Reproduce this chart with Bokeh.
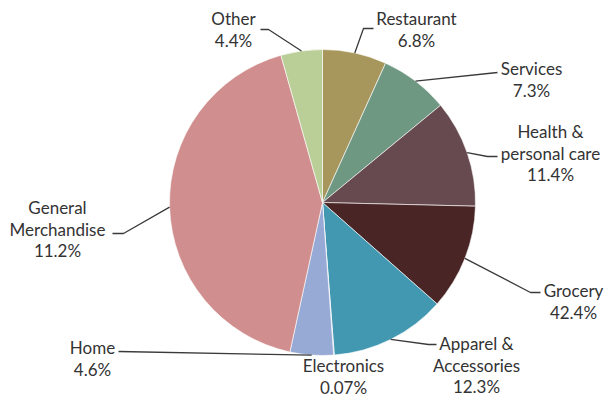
import math
from bokeh.plotting import figure
from bokeh.models import Range1d, ColumnDataSource
from bokeh.core.properties import value
from bokeh.embed import file_html
from bokeh.resources import INLINE

# ---- data ----
categories = ["Restaurant", "Services", "Health &\npersonal care", "Grocery",
              "Apparel &\nAccessories", "Electronics", "Home",
              "General\nMerchandise", "Other"]
# slice sizes as drawn (percent of the circle)
slice_values = [6.8, 7.3, 11.4, 11.2, 12.3, 0.07, 4.6, 42.4, 4.4]
# percentages as printed in the labels
label_pcts = ["6.8%", "7.3%", "11.4%", "42.4%", "12.3%", "0.07%", "4.6%", "11.2%", "4.4%"]

# ---- styles / layout ----
colors = ["#A8975C", "#6F9883", "#674A4F", "#4A2525", "#4398B1",
          "#B8C4DC", "#97AAD5", "#D18E8E", "#B9CF97"]
W, H = 611, 398
OX, OY = 0, 0  # image offset of the plot
def Y(img_y):
    return H - (img_y - OY)

cx, cy, R = 322 - OX, Y(202), 153
# label text position (center x, first line image y), leader elbow & end (image coords)
label_layout = [
    (416, 18, (363, 28), (373, 28)),
    (531, 68, None, (497, 72)),
    (550, 131, (487, 156), (497, 156)),
    (573, 290, (530, 292), (540, 292)),
    (476, 343, (428, 344), (436, 344)),
    (343, 365, None, None),
    (92, 347, None, (118, 351)),
    (57, 207, (123, 233), (112, 233)),
    (233, 18, (268, 29), (260, 29)),
]
LINE_H = 21.7
text_color = "#333333"

p = figure(width=W, height=H, output_backend="svg", toolbar_location=None,
           x_range=Range1d(OX, OX + W), y_range=Range1d(0, H),
           min_border=0, outline_line_color=None)
p.axis.visible = False
p.grid.visible = False
p.background_fill_color = "white"
p.border_fill_color = "white"

total = sum(slice_values)
starts, ends, mids = [], [], []
cum = 0.0
for v in slice_values:
    a0 = math.pi / 2 - 2 * math.pi * cum / total
    cum += v
    a1 = math.pi / 2 - 2 * math.pi * cum / total
    starts.append(a0)
    ends.append(a1)
    mids.append((a0 + a1) / 2)

src = ColumnDataSource(dict(start=starts, end=ends, color=colors,
                            x=[cx] * len(starts), y=[cy] * len(starts)))
p.wedge(x="x", y="y", radius=R, start_angle="start", end_angle="end",
        direction="clock", fill_color="color", line_color="white",
        line_width=0.6, source=src)

# leader lines
for i, (tx, ty, elbow, end) in enumerate(label_layout):
    if end is None:
        continue
    xs = [cx + R * math.cos(mids[i])]
    ys = [cy + R * math.sin(mids[i])]
    if elbow is not None:
        xs.append(elbow[0] - OX); ys.append(Y(elbow[1]))
    xs.append(end[0] - OX); ys.append(Y(end[1]))
    p.line(xs, ys, line_color="#3a3a3a", line_width=1.3)

# labels
tx_list, ty_list, txt = [], [], []
for i, (tx, ty, elbow, end) in enumerate(label_layout):
    lines = categories[i].split("\n") + [label_pcts[i]]
    for k, s in enumerate(lines):
        tx_list.append(tx - OX)
        ty_list.append(Y(ty + k * LINE_H))
        txt.append(s)
p.text(x=tx_list, y=ty_list, text=txt, text_align="center", text_baseline="middle",
       text_font=value("Lato"), text_font_size=value("17px"), text_color=text_color)

open("out.html", "w").write(file_html(p, INLINE))
